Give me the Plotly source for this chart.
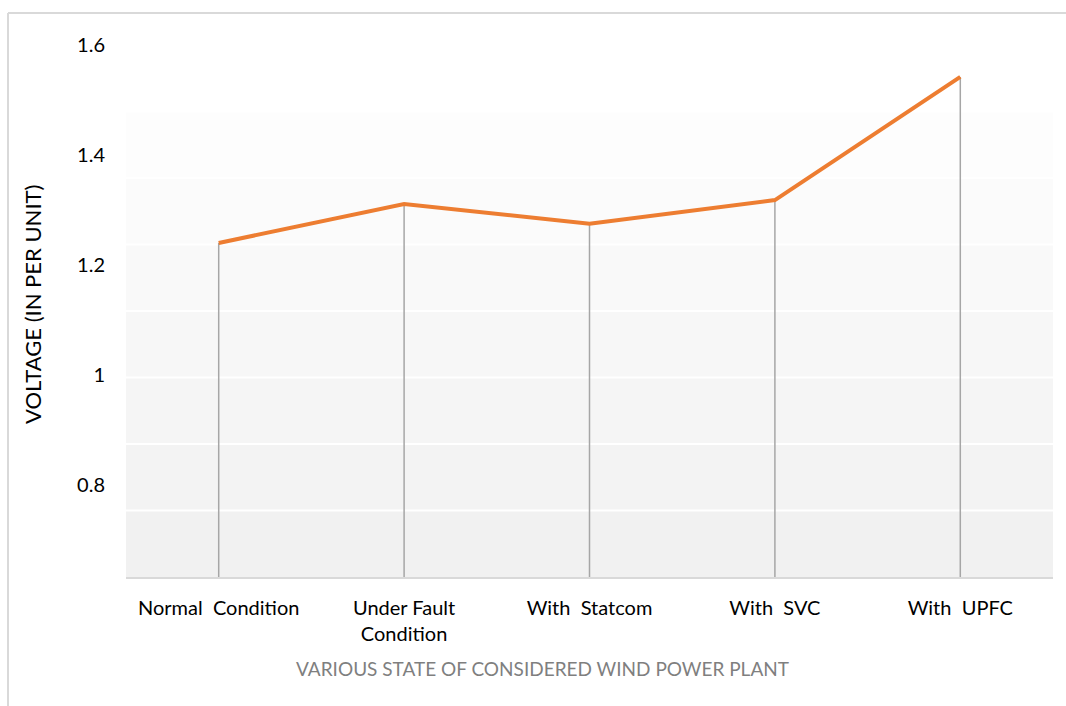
import plotly.graph_objects as go

categories = ["Normal  Condition", "Under Fault<br>Condition", "With  Statcom", "With  SVC", "With  UPFC"]
voltage = [1.24, 1.311, 1.275, 1.318, 1.542]
y_tick_vals = [0.8, 1.0, 1.2, 1.4, 1.6]
y_tick_text = ["0.8", "1", "1.2", "1.4", "1.6"]
y_min, y_max = 0.6327, 1.6
x_title = "VARIOUS STATE OF CONSIDERED WIND POWER PLANT"
y_title = "VOLTAGE (IN PER UNIT)"

FONT = "Lato"
cat_labels = [c.replace("  ", "\u00a0 ") for c in categories]

fig = go.Figure()

# drop lines from each point to the category axis
dx, dy = [], []
for c, v in zip(cat_labels, voltage):
    dx += [c, c, None]
    dy += [v, y_min, None]
fig.add_trace(go.Scatter(x=dx, y=dy, mode="lines",
                         line=dict(color="#a6a6a6", width=1.5),
                         hoverinfo="skip", showlegend=False))

fig.add_trace(go.Scatter(x=cat_labels, y=voltage, mode="lines",
                         line=dict(color="#ED7D31", width=4),
                         showlegend=False))

shapes = []
band_cols = ["#ffffff", "#fdfdfd", "#fbfbfb", "#f9f9f9", "#f7f7f7", "#f5f5f5", "#f3f3f3", "#f1f1f1"]
for k in range(8):
    shapes.append(dict(type="rect", xref="x domain", yref="y domain",
                       x0=0, x1=1, y0=k / 8, y1=(k + 1) / 8,
                       fillcolor=band_cols[7 - k], line=dict(width=0), layer="below"))
for k in range(1, 8):
    shapes.append(dict(type="line", xref="x domain", yref="y domain",
                       x0=0, x1=1, y0=k / 8, y1=k / 8,
                       line=dict(color="#ffffff", width=2), layer="below"))
# chart border (left and top)
shapes.append(dict(type="line", xref="paper", yref="paper",
                   x0=-118 / 927, x1=-118 / 927, y0=-129 / 532, y1=(532 + 32) / 532,
                   line=dict(color="#d9d9d9", width=2)))
shapes.append(dict(type="line", xref="paper", yref="paper",
                   x0=-118 / 927, x1=1 + 13 / 927, y0=(532 + 32) / 532, y1=(532 + 32) / 532,
                   line=dict(color="#d9d9d9", width=2)))

annotations = [
    dict(text=x_title, xref="paper", yref="paper", x=(542 - 126) / 927, y=(577 - 668) / 532,
         xanchor="center", yanchor="middle", showarrow=False,
         font=dict(size=19, family=FONT, color="#7f7f7f")),
    dict(text=y_title, xref="paper", yref="paper", x=(32 - 126) / 927, y=(577 - 305) / 532,
         xanchor="center", yanchor="middle", showarrow=False, textangle=-90,
         font=dict(size=22, family=FONT, color="black")),
]

fig.update_layout(
    width=1066, height=706,
    margin=dict(l=126, r=13, t=45, b=129),
    paper_bgcolor="white", plot_bgcolor="rgba(0,0,0,0)",
    shapes=shapes, annotations=annotations,
    font=dict(family=FONT, color="black"),
    xaxis=dict(
        type="category", range=[-0.5, 4.5],
        showgrid=False, zeroline=False,
        showline=True, linecolor="#d9d9d9", linewidth=2,
        ticks="", ticklabelstandoff=12,
        tickfont=dict(size=20, family=FONT, color="black"),
    ),
    yaxis=dict(
        range=[y_min, y_max], showgrid=False, zeroline=False, showline=False,
        tickvals=y_tick_vals, ticktext=y_tick_text, ticks="",
        ticklabelstandoff=20,
        tickfont=dict(size=20, family=FONT, color="black"),
    ),
)

fig.write_html("out.html", config={"displayModeBar": False},
               post_script="document.body.style.margin='0';document.body.style.overflow='hidden';")
